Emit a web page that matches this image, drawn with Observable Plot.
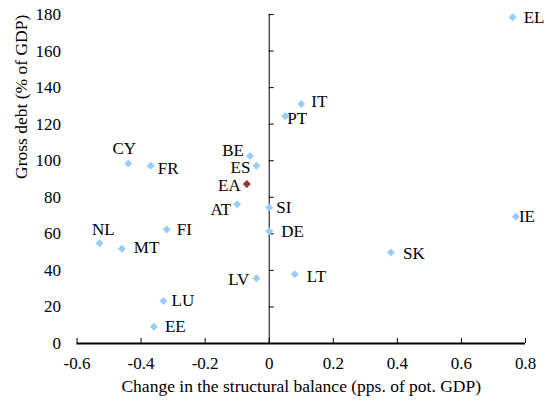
<!DOCTYPE html>
<html><head><meta charset="utf-8">
<script src="https://cdn.jsdelivr.net/npm/d3@7"></script>
<script src="https://cdn.jsdelivr.net/npm/@observablehq/plot@0.6"></script>
<style>
body{margin:0;background:#fff}
svg{display:block}
</style>
</head><body><div id="chart"></div>
<script>
const countries = ["EL","IT","PT","CY","FR","BE","ES","EA","AT","SI","DE","FI","NL","MT","LV","LU","EE","IE","SK","LT"];
const balanceChange = [0.76,0.10,0.05,-0.44,-0.37,-0.06,-0.04,-0.07,-0.10,0.00,0.00,-0.32,-0.53,-0.46,-0.04,-0.33,-0.36,0.77,0.38,0.08];
const grossDebt = [178.5,131,124.3,98.5,97.2,102.6,97.2,87.3,76.2,74.4,61.4,62.4,54.9,51.8,35.7,23.3,9.1,69.3,49.8,37.9];
const xTicks = [-0.6,-0.4,-0.2,0,0.2,0.4,0.6,0.8];
const yTicks = [0,20,40,60,80,100,120,140,160,180];
const xTitle = "Change in the structural balance (pps. of pot. GDP)";
const yTitle = "Gross debt (% of GDP)";

// label placement (layout only)
const labelPlacement = {
  EL:["start",11,0], IT:["start",10,-3], PT:["start",2,2], CY:["middle",-4,-15],
  FR:["start",7,3], BE:["end",-6,-5], ES:["end",-6,2], EA:["end",-6,1.5],
  AT:["end",-6,5], SI:["start",7,0], DE:["start",12,0], FI:["start",10,0],
  NL:["middle",4,-14], MT:["start",12,-1], LV:["end",-7,1], LU:["start",8,0],
  EE:["start",11,0], IE:["start",3,0], SK:["start",12,1], LT:["start",12,2]
};

const rows = countries.map((c, i) => ({code: c, x: balanceChange[i], y: grossDebt[i]}));
const blue = "#99CCFF", red = "#993333";
const font = {fontFamily: "Liberation Serif", fontSize: 17};
const titleFont = {fontFamily: "Liberation Serif", fontSize: 17.5};

const labelMarks = rows.map(d => {
  const [a, dx, dy] = labelPlacement[d.code];
  return Plot.text([d], {x: "x", y: "y", text: "code", textAnchor: a, dx, dy, fill: "black", ...font});
});

const chart = Plot.plot({
  width: 549, height: 403,
  marginTop: 14, marginRight: 24, marginBottom: 60, marginLeft: 76.5,
  x: {domain: [-0.6, 0.8], axis: null},
  y: {domain: [0, 180], axis: null},
  marks: [
    Plot.axisY({ticks: yTicks, tickSize: 0, tickPadding: 16, tickFormat: d => String(d), label: null, fill: "black", ...font}),
    Plot.axisX({ticks: xTicks, tickSize: 0, tickPadding: 13, tickFormat: d => String(d), label: null, fill: "black", ...font}),
    Plot.ruleX([0], {y1: 0, y2: 180, stroke: "black", strokeWidth: 1}),
    Plot.ruleY(yTicks, {x1: 0, x2: 0, insetRight: -5, stroke: "black", strokeWidth: 1}),
    Plot.ruleX(xTicks, {y1: 0, y2: 0, insetBottom: 5, stroke: "black", strokeWidth: 1}),
    Plot.ruleY([0], {stroke: "black", strokeWidth: 2}),
    Plot.dot(rows.filter(d => d.code !== "EA"), {x: "x", y: "y", symbol: "diamond2", r: 3.6, fill: blue}),
    Plot.dot(rows.filter(d => d.code === "EA"), {x: "x", y: "y", symbol: "diamond2", r: 3.6, fill: red}),
    ...labelMarks,
    Plot.text([xTitle], {frameAnchor: "bottom", dy: 48, fill: "black", ...titleFont}),
    Plot.text([yTitle], {frameAnchor: "left", rotate: -90, dx: -55.5, fill: "black", ...titleFont})
  ]
});
document.getElementById("chart").appendChild(chart);
</script>
</body></html>
